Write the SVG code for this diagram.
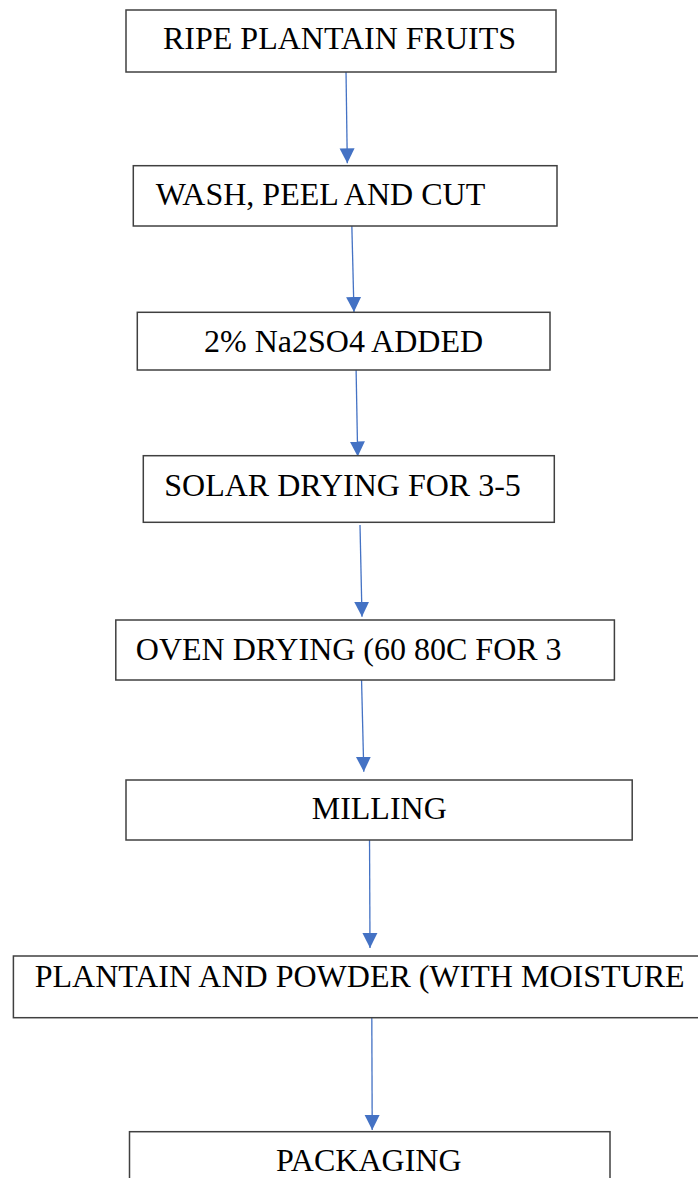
<svg xmlns="http://www.w3.org/2000/svg" width="698" height="1178" viewBox="0 0 698 1178">
  <style>
    .box { fill: #ffffff; stroke: #404040; stroke-width: 1.5; }
    .label { font-family: "Liberation Serif", "Times New Roman", serif; font-size: 32px; fill: #000000; }
    .flow { stroke: #4472C4; stroke-width: 1.3; fill: none; marker-end: url(#arrow); }
  </style>
  <defs>
    <marker id="arrow" markerUnits="userSpaceOnUse" markerWidth="16" markerHeight="16" viewBox="0 0 16 16" refX="15" refY="8" orient="auto">
      <path d="M0,0.5 L15,8 L0,15.5 Z" fill="#4472C4"/>
    </marker>
  </defs>
  <rect width="698" height="1178" fill="#ffffff"/>

  <g id="connectors">
    <line class="flow" x1="346" y1="70" x2="347.3" y2="163.3"/>
    <line class="flow" x1="351.7" y1="220" x2="354" y2="312"/>
    <line class="flow" x1="356" y1="364" x2="357.7" y2="456.5"/>
    <line class="flow" x1="360" y1="525" x2="362" y2="616.7"/>
    <line class="flow" x1="361.5" y1="678" x2="363.8" y2="771.7"/>
    <line class="flow" x1="369.5" y1="833" x2="370" y2="948"/>
    <line class="flow" x1="371.8" y1="1015" x2="372.2" y2="1130"/>
  </g>

  <g id="ripe-plantain-fruits">
    <rect class="box" x="126" y="10" width="430" height="62"/>
    <text class="label" x="163" y="49">RIPE PLANTAIN FRUITS</text>
  </g>
  <g id="wash-peel-cut">
    <rect class="box" x="133.3" y="165.7" width="423.7" height="60.3"/>
    <text class="label" x="155.7" y="204.7">WASH, PEEL AND CUT</text>
  </g>
  <g id="sulphate-added">
    <rect class="box" x="137.3" y="312.3" width="412.7" height="57.7"/>
    <text class="label" x="204" y="351.7">2% Na2SO4 ADDED</text>
  </g>
  <g id="solar-drying">
    <rect class="box" x="143.3" y="455.7" width="411" height="66.6"/>
    <text class="label" x="164.3" y="495.7">SOLAR DRYING FOR 3-5</text>
  </g>
  <g id="oven-drying">
    <rect class="box" x="115.8" y="620" width="498.6" height="60"/>
    <text class="label" x="135.8" y="660">OVEN DRYING (60 80C FOR 3</text>
  </g>
  <g id="milling">
    <rect class="box" x="126" y="780" width="506.2" height="60"/>
    <text class="label" x="311.7" y="819">MILLING</text>
  </g>
  <g id="plantain-powder">
    <rect class="box" x="13.4" y="956" width="700" height="61.7"/>
    <text class="label" x="34.7" y="986.7">PLANTAIN AND POWDER (WITH MOISTURE</text>
  </g>
  <g id="packaging">
    <rect class="box" x="129.5" y="1131.7" width="480.5" height="80"/>
    <text class="label" x="276" y="1171">PACKAGING</text>
  </g>
</svg>
